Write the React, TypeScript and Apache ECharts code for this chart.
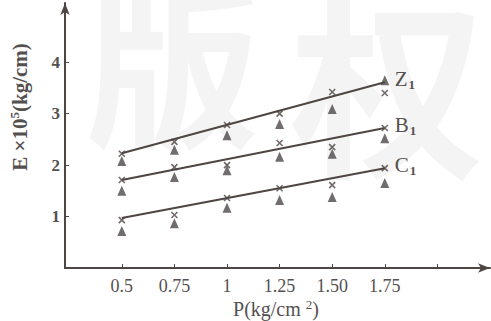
import React, { useEffect, useRef } from "react";
import * as echarts from "echarts";

const pValues = [0.5, 0.75, 1, 1.25, 1.5, 1.75];
const xTickLabels = ["0.5", "0.75", "1", "1.25", "1.50", "1.75"];
const yTickValues = [1, 2, 3, 4];

// fitted lines (start at P=0.5, end at P=1.75)
const lineEnds = [0.5, 1.75];
const z1Line = [2.23, 3.61];
const b1Line = [1.71, 2.72];
const c1Line = [0.97, 1.94];

// measured points: crosses and triangles
const z1Cross = [2.22, 2.45, 2.78, 3.0, 3.42, 3.4];
const z1Tri = [2.08, 2.3, 2.58, 2.8, 3.09, 3.65];
const b1Cross = [1.71, 1.96, 2.0, 2.43, 2.35, 2.72];
const b1Tri = [1.5, 1.77, 1.9, 2.16, 2.22, 2.52];
const c1Cross = [0.93, 1.03, 1.36, 1.55, 1.61, 1.94];
const c1Tri = [0.72, 0.87, 1.17, 1.32, 1.38, 1.65];

const seriesNames = ["Z", "B", "C"];

const INK = "#4f4543";
const TEXT = "#555050";
const FONT = "'Liberation Serif', 'DejaVu Serif', serif";

const CROSS = "path://M0,0L10,10M10,0L0,10";

export default function App() {
  const ref = useRef<HTMLDivElement>(null);
  useEffect(() => {
    if (!ref.current) return;
    const chart = echarts.init(ref.current, null, { renderer: "svg" });
    const pair = (xs: number[], ys: number[]) => xs.map((x, i) => [x, ys[i]]);
    const lines = [z1Line, b1Line, c1Line];
    const crosses = [z1Cross, b1Cross, c1Cross];
    const tris = [z1Tri, b1Tri, c1Tri];

    const series: any[] = [];
    lines.forEach((l, k) => {
      series.push({
        type: "line",
        data: pair(lineEnds, l),
        symbol: "none",
        lineStyle: { color: INK, width: 2 },
        z: 3,
        endLabel: {
          show: true,
          distance: 10,
          offset: [0, -3],
          formatter: () => `{a|${seriesNames[k]}}{b|1}`,
          rich: {
            a: { fontFamily: FONT, fontSize: 21, color: TEXT },
            b: { fontFamily: FONT, fontSize: 13, fontWeight: "bold", color: TEXT, padding: [10, 0, 0, 1] },
          },
        },
      });
    });
    crosses.forEach((c) => {
      series.push({
        type: "scatter",
        data: pair(pValues, c),
        symbol: CROSS,
        symbolSize: 6,
        itemStyle: { color: "none", borderColor: INK, borderWidth: 1.6 },
        z: 4,
      });
    });
    tris.forEach((t) => {
      series.push({
        type: "scatter",
        data: pair(pValues, t),
        symbol: "triangle",
        symbolSize: [9, 10],
        itemStyle: { color: "#4d4848" },
        z: 4,
      });
    });

    chart.setOption({
      animation: false,
      backgroundColor: "#ffffff",
      grid: { left: 65, right: 1, top: 3, bottom: 53 },
      xAxis: {
        type: "value",
        min: 0.23,
        max: 2.25,
        splitLine: { show: false },
        axisLine: {
          lineStyle: { color: INK, width: 2 },
          symbol: ["none", "arrow"],
          symbolSize: [7, 12],
        },
        axisTick: {
          inside: true,
          length: 4,
          lineStyle: { color: INK },
          customValues: [0.5, 0.75, 1, 1.25, 1.5, 1.75, 2],
        },
        axisLabel: {
          customValues: pValues,
          formatter: (v: number) => {
            const i = pValues.findIndex((p) => Math.abs(p - v) < 1e-6);
            return i >= 0 ? xTickLabels[i] : "";
          },
          margin: 9,
          color: TEXT,
          fontFamily: FONT,
          fontSize: 18,
        },
      },
      yAxis: {
        type: "value",
        min: 0,
        max: 5.15,
        splitLine: { show: false },
        axisLine: {
          lineStyle: { color: INK, width: 2 },
          symbol: ["none", "arrow"],
          symbolSize: [7, 12],
        },
        axisTick: {
          inside: true,
          length: 4,
          lineStyle: { color: INK },
          customValues: yTickValues,
        },
        axisLabel: {
          customValues: yTickValues,
          margin: 5,
          color: TEXT,
          fontFamily: FONT,
          fontWeight: "bold",
          fontSize: 17,
        },
      },
      graphic: [
        {
          type: "text",
          silent: true,
          z: -10,
          x: 85,
          y: -30,
          style: {
            text: "版",
            fontSize: 175,
            fontFamily: "'Noto Sans CJK SC'",
            fontWeight: "bold",
            fill: "rgba(0,0,0,0.045)",
          },
        },
        {
          type: "text",
          silent: true,
          z: -10,
          x: 290,
          y: -20,
          style: {
            text: "权",
            fontSize: 195,
            fontFamily: "'Noto Sans CJK SC'",
            fontWeight: "bold",
            fill: "rgba(0,0,0,0.045)",
          },
        },
        {
          type: "text",
          x: 20,
          y: 107,
          rotation: Math.PI / 2,
          style: {
            text: "E ×10{s|5}(kg/cm)",
            fontFamily: FONT,
            fontSize: 21,
            fontWeight: "bold",
            fill: TEXT,
            align: "center",
            verticalAlign: "middle",
            rich: {
              s: { fontFamily: FONT, fontSize: 13, fontWeight: "bold", fill: TEXT, padding: [0, 0, 11, 0] },
            },
          } as any,
        },
        {
          type: "text",
          x: 276,
          y: 309,
          style: {
            text: "P(kg/cm {s|2})",
            fontFamily: FONT,
            fontSize: 20,
            fill: TEXT,
            align: "center",
            verticalAlign: "middle",
            rich: {
              s: { fontFamily: FONT, fontSize: 13, fill: TEXT, padding: [0, 0, 10, 0] },
            },
          } as any,
        },
      ],
      series,
    });
    return () => chart.dispose();
  }, []);
  return (
    <div
      ref={ref}
      style={{ position: "fixed", left: 0, top: 0, width: 491, height: 321 }}
    />
  );
}
